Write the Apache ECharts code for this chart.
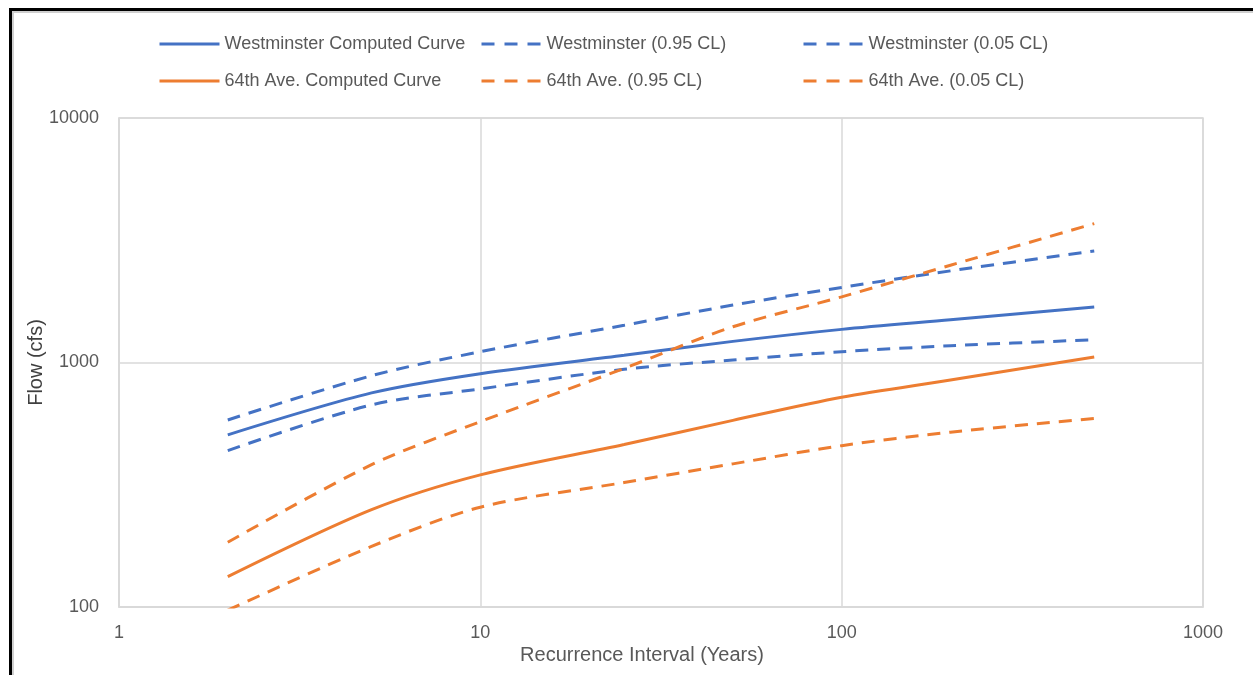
<!DOCTYPE html>
<html>
<head>
<meta charset="utf-8">
<script src="https://cdn.jsdelivr.net/npm/echarts@6/dist/echarts.min.js"></script>
<style>
  html, body { margin: 0; padding: 0; background: #fff; }
  #main { width: 1253px; height: 675px; }
  #frame {
    position: absolute; left: 9px; top: 8px; width: 1260px; height: 680px;
    border-top: 3px solid #000; border-left: 3px solid #000;
    box-shadow: inset 2px 2px 0 #cfcfcf; pointer-events: none;
  }
</style>
</head>
<body>
<div id="main"></div>
<div id="frame"></div>
<script>
// recurrence intervals (years)
const years = [2, 5, 10, 25, 50, 100, 200, 500];

// flows (cfs)
const westComputed = [506, 751, 900, 1070, 1220, 1366, 1495, 1685];
const westHigh = [582, 883, 1107, 1420, 1717, 2028, 2370, 2858];
const westLow = [436, 671, 780, 938, 1024, 1107, 1171, 1239];
const aveComputed = [133, 250, 347, 462, 580, 721, 848, 1053];
const aveHigh = [184, 382, 573, 946, 1400, 1856, 2500, 3699];
const aveLow = [97, 177, 256, 323, 385, 457, 519, 590];

const seriesNames = [
  "Westminster Computed Curve", "Westminster (0.95 CL)", "Westminster (0.05 CL)",
  "64th Ave. Computed Curve", "64th Ave. (0.95 CL)", "64th Ave. (0.05 CL)",
];
const dashedFlags = [false, true, true, false, true, true];

const BLUE = "#4472C4";
const ORANGE = "#ED7D31";
const FONT = "Liberation Sans";
const DASH = [13, 9];

const pair = vals => years.map((y, i) => [y, vals[i]]);

const mkSeries = (name, vals, color, dashed) => ({
  name,
  type: "line",
  data: pair(vals),
  smooth: 0.3,
  symbol: "none",
  lineStyle: { color, width: 3, type: dashed ? DASH : "solid" },
  itemStyle: { color },
});

const myChart = echarts.init(document.getElementById("main"));

const legendPos = [
  [158, 35], [480, 35], [802, 35],
  [158, 72], [480, 72], [802, 72],
];

const option = {
  backgroundColor: "#fff",
  textStyle: { fontFamily: FONT },
  legend: seriesNames.map((n, i) => ({
    data: [n],
    left: legendPos[i][0],
    top: legendPos[i][1],
    padding: 0,
    itemWidth: 60,
    itemHeight: 18,
    itemGap: 6,
    selectedMode: false,
    itemStyle: { opacity: 0 },
    lineStyle: { width: 3, type: dashedFlags[i] ? [13, 10] : "solid" },
    textStyle: { color: "#595959", fontSize: 18, fontFamily: FONT },
  })),
  grid: {
    left: 119, right: 50, top: 118, bottom: 68,
    show: true, borderColor: "#D9D9D9", borderWidth: 1.5,
  },
  xAxis: {
    type: "log",
    logBase: 10,
    min: 1,
    max: 1000,
    name: "Recurrence Interval (Years)",
    nameLocation: "middle",
    nameGap: 38,
    nameMoveOverlap: false,
    nameTextStyle: { color: "#595959", fontSize: 20, padding: [0, 38, 0, 0] },
    axisLine: { show: true, lineStyle: { color: "#D9D9D9", width: 1.5 } },
    axisTick: { show: false },
    minorTick: { show: false },
    axisLabel: { color: "#595959", fontSize: 18, margin: 17, formatter: v => String(v) },
    splitLine: { show: true, lineStyle: { color: "#D9D9D9", width: 1.5 } },
  },
  yAxis: {
    type: "log",
    logBase: 10,
    min: 100,
    max: 10000,
    name: "Flow (cfs)",
    nameLocation: "middle",
    nameGap: 73,
    nameMoveOverlap: false,
    nameTextStyle: { color: "#404040", fontSize: 20 },
    axisLine: { show: true, lineStyle: { color: "#D9D9D9", width: 1.5 } },
    axisTick: { show: false },
    axisLabel: { color: "#595959", fontSize: 18, margin: 20, formatter: v => String(v) },
    splitLine: { show: true, lineStyle: { color: "#D9D9D9", width: 1.5 } },
  },
  series: seriesNames.map((n, i) => mkSeries(
    n,
    [westComputed, westHigh, westLow, aveComputed, aveHigh, aveLow][i],
    i < 3 ? BLUE : ORANGE,
    dashedFlags[i]
  )),
};

option && myChart.setOption(option);
</script>
</body>
</html>
